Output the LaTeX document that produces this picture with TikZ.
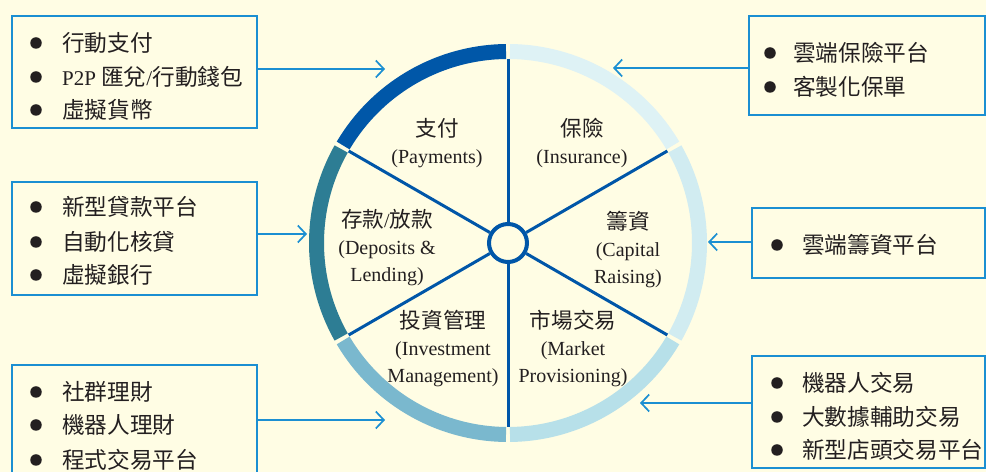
\documentclass[tikz,border=0pt]{standalone}
\usepackage{fontspec}
\setmainfont{Liberation Serif}
\newfontfamily\cjk[Scale=1.08]{Noto Sans CJK TC}
\usetikzlibrary{arrows.meta}
\definecolor{bg}{RGB}{255,253,228}
\definecolor{txt}{RGB}{35,31,32}
\definecolor{boxblue}{RGB}{27,143,210}
\definecolor{spokeblue}{RGB}{0,86,168}
\definecolor{cPay}{RGB}{0,87,168}
\definecolor{cDep}{RGB}{45,125,148}
\definecolor{cInv}{RGB}{122,184,206}
\definecolor{cMkt}{RGB}{183,224,233}
\definecolor{cCap}{RGB}{209,236,241}
\definecolor{cIns}{RGB}{222,242,245}
\tikzset{
  box/.style={draw=boxblue, line width=2bp, rectangle, inner sep=0pt},
  bul/.style={circle, fill=txt, minimum size=11.5bp, inner sep=0pt},
  itm/.style={anchor=west, inner sep=0pt, text=txt, font=\fontsize{21bp}{25bp}\selectfont\cjk},
  lbl/.style={align=center, inner sep=0pt, text=txt, font=\fontsize{20bp}{27bp}\selectfont},
  arr/.style={draw=boxblue, line width=1.7bp, -{Straight Barb[length=8bp,width=17bp,line width=1.7bp]}},
  seg/.style={line width=15bp},
  spoke/.style={draw=spokeblue, line width=3bp}
}
\begin{document}
\begin{tikzpicture}[x=1bp,y=1bp]
\fill[bg] (0,0) rectangle (986,472);
\useasboundingbox (0,0) rectangle (986,472);
\coordinate (O) at (508,229);
% ring segments
\foreach \a/\c in {90/cPay,150/cDep,210/cInv,270/cMkt,330/cCap,30/cIns}
  \draw[seg,\c] ([shift={(\a+0.6:191.5)}]O) arc[start angle=\a+0.6, end angle=\a+59.4, radius=191.5];
% centre circle and spokes
\node[circle, draw=spokeblue, line width=4bp, fill=bg, minimum size=38bp, inner sep=0pt] (C) at (O) {};
\foreach \a in {30,90,150,210,270,330}
  \draw[spoke] (C.\a) -- ([shift={(\a:184)}]C.center);
% sector labels
\node[lbl] (pay) at (437,328.5) {{\cjk 支付}\\(Payments)};
\node[lbl] (ins) at (582,329) {{\cjk 保險}\\(Insurance)};
\node[lbl] (dep) at (387,224.5) {{\cjk 存款}/{\cjk 放款}\\(Deposits \&\\Lending)};
\node[lbl] (cap) at (628,222.5) {{\cjk 籌資}\\(Capital\\Raising)};
\node[lbl] (inv) at (443,123.5) {{\cjk 投資管理}\\(Investment\\Management)};
\node[lbl] (mkt) at (573,124) {{\cjk 市場交易}\\(Market\\Provisioning)};
% left boxes
\node[box, minimum width=245bp, minimum height=112bp] (L1) at (134.5,400) {};
\node[box, minimum width=245bp, minimum height=113bp] (L2) at (134.5,233.5) {};
\node[box, minimum width=245bp, minimum height=140bp] (L3) at (134.5,37) {};
% right boxes
\node[box, minimum width=236bp, minimum height=99bp] (R1) at (867,406.5) {};
\node[box, minimum width=233bp, minimum height=70bp] (R2) at (868.5,229) {};
\node[box, minimum width=233bp, minimum height=112bp] (R3) at (868.5,60) {};
% items L1
\node[bul] (b11) at (36,429) {}; \node[itm] (t11) at (62,429) {行動支付};
\node[bul] (b12) at (36,395) {}; \node[itm] (t12) at (62,395) {{\rmfamily P2P} 匯兌{\rmfamily /}行動錢包};
\node[bul] (b13) at (36,362) {}; \node[itm] (t13) at (62,362) {虛擬貨幣};
% items L2
\node[bul] (b21) at (36,265) {}; \node[itm] (t21) at (62,265) {新型貸款平台};
\node[bul] (b22) at (36,230) {}; \node[itm] (t22) at (62,230) {自動化核貸};
\node[bul] (b23) at (36,197) {}; \node[itm] (t23) at (62,197) {虛擬銀行};
% items L3
\node[bul] (b31) at (36,80) {}; \node[itm] (t31) at (62,80) {社群理財};
\node[bul] (b32) at (36,47) {}; \node[itm] (t32) at (62,47) {機器人理財};
\node[bul] (b33) at (36,12) {}; \node[itm] (t33) at (62,12) {程式交易平台};
% items R1
\node[bul] (r11) at (770,419) {}; \node[itm] (s11) at (793,419) {雲端保險平台};
\node[bul] (r12) at (770,385) {}; \node[itm] (s12) at (793,385) {客製化保單};
% items R2
\node[bul] (r21) at (777,227) {}; \node[itm] (s21) at (802,227) {雲端籌資平台};
% items R3
\node[bul] (r31) at (777,89) {}; \node[itm] (s31) at (802,89) {機器人交易};
\node[bul] (r32) at (777,55) {}; \node[itm] (s32) at (802,55) {大數據輔助交易};
\node[bul] (r33) at (777,22) {}; \node[itm] (s33) at (802,22) {新型店頭交易平台};
% arrows
\coordinate (a1) at (385,403);
\coordinate (a2) at (307,238);
\coordinate (a3) at (385,52);
\coordinate (a4) at (613,404);
\coordinate (a5) at (708,230);
\coordinate (a6) at (640,69);
\draw[arr] (L1.east |- a1) -- (a1);
\draw[arr] (L2.east |- a2) -- (a2);
\draw[arr] (L3.east |- a3) -- (a3);
\draw[arr] (R1.west |- a4) -- (a4);
\draw[arr] (R2.west |- a5) -- (a5);
\draw[arr] (R3.west |- a6) -- (a6);
\end{tikzpicture}
\end{document}
